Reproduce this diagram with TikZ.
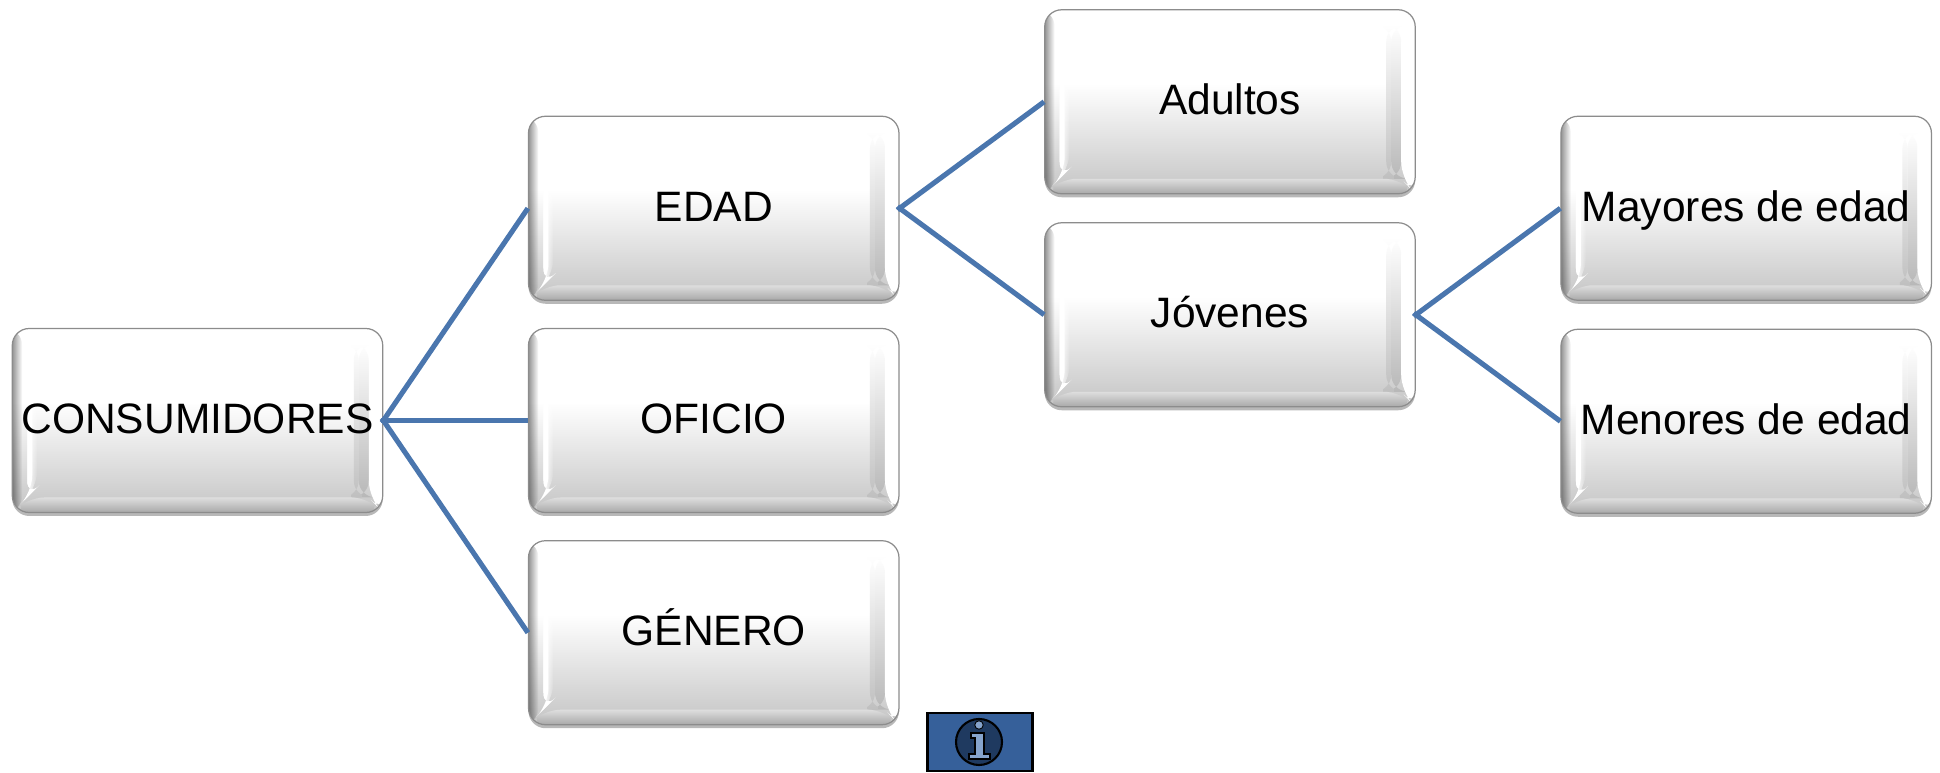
\documentclass[tikz,border=0pt]{standalone}
\usepackage{fontspec}
\setmainfont{Liberation Sans}
\usetikzlibrary{positioning,shadows,fadings}
\definecolor{linkblue}{HTML}{4A76AE}
\definecolor{infoblue}{HTML}{36609A}
\definecolor{infodark}{HTML}{1F3A60}
\definecolor{infolight}{HTML}{86A4CC}
\pgfdeclareverticalshading{boxface}{100bp}{color(0bp)=(black!23);color(25bp)=(black!23);color(55bp)=(white);color(100bp)=(white)}
\tikzfading[name=fadeeast,left color=transparent!0,right color=transparent!100]
\tikzset{boxnode/.style={rectangle,rounded corners=0.34cm,minimum width=7.41cm,minimum height=3.68cm,inner sep=0pt,
text height=0.6cm,text depth=0.08cm,
draw=black!45,line width=0.7pt,shading=boxface,font=\fontsize{24.2}{28}\selectfont,
drop shadow={shadow xshift=0cm,shadow yshift=-0.07cm,opacity=0.28,fill=black},
path picture={
\coordinate (nw) at (path picture bounding box.north west);
\coordinate (ne) at (path picture bounding box.north east);
\coordinate (sw) at (path picture bounding box.south west);
\coordinate (se) at (path picture bounding box.south east);
\coordinate (inw) at ([xshift=0.3cm,yshift=-0.3cm]nw);
\coordinate (ine) at ([xshift=-0.28cm,yshift=-0.3cm]ne);
\coordinate (isw) at ([xshift=0.3cm,yshift=0.3cm]sw);
\coordinate (ise) at ([xshift=-0.28cm,yshift=0.3cm]se);
\shade[top color=white,bottom color=black!28] ([xshift=-0.2cm]ine)--(ine)--(ise)--([xshift=-0.2cm,yshift=0cm]ise)--cycle;
\shade[top color=white,bottom color=black!25] ([xshift=-0.3cm]ine)--([xshift=-0.2cm]ine)--([xshift=-0.2cm]ise)--([xshift=-0.3cm]ise)--cycle;
\fill[white,path fading=fadeeast] (isw)--([xshift=0.2cm,yshift=0.2cm]isw)--([xshift=0.2cm]inw)--(inw)--cycle;
\fill[white] (isw)--([xshift=0.1cm,yshift=0.1cm]isw)--([xshift=0.1cm]inw)--(inw)--cycle;
\shade[top color=black!13,bottom color=black!34] (sw)--(isw)--(ise)--(se)--cycle;
\fill[white] (ne)--(ine)--(ise)--(se)--cycle;
\fill[black,opacity=0.42,path fading=fadeeast] (nw) rectangle ([xshift=0.2cm]sw);
}},
linknode/.style={draw=linkblue,line width=2.9pt,shorten <=-1.5pt}}
\begin{document}
\begin{tikzpicture}
\useasboundingbox (0,0) rectangle (38.8,15.44);
\node[boxnode] (C0) at (3.95,7.03) {CONSUMIDORES};
\node[boxnode,right=2.89cm of C0] (B2) {OFICIO};
\node[boxnode,above=0.54cm of B2] (B1) {EDAD};
\node[boxnode,below=0.54cm of B2] (B3) {GÉNERO};
\node[boxnode,right=2.89cm of B1,yshift=2.13cm] (A1) {Adultos};
\node[boxnode,right=2.89cm of B1,yshift=-2.13cm] (A2) {Jóvenes};
\node[boxnode,right=2.89cm of A2,yshift=2.13cm] (M1) {Mayores de edad};
\node[boxnode,right=2.89cm of A2,yshift=-2.13cm] (M2) {Menores de edad};
\draw[linknode] (C0.east)--(B1.west);
\draw[linknode] (C0.east)--(B2.west);
\draw[linknode] (C0.east)--(B3.west);
\draw[linknode] (B1.east)--(A1.west);
\draw[linknode] (B1.east)--(A2.west);
\draw[linknode] (A2.east)--(M1.west);
\draw[linknode] (A2.east)--(M2.west);
\node[rectangle,draw=black,line width=1.2pt,fill=infoblue,minimum width=2.1cm,minimum height=1.16cm,inner sep=0pt] (info) at (19.6,0.6) {};
\node[circle,draw=black,line width=1.2pt,fill=infodark,minimum size=0.92cm,inner sep=0pt] (ring) at (19.58,0.6) {};
\node[circle,draw=black,line width=0.5pt,fill=infolight,minimum size=0.17cm,inner sep=0pt] (dot) at (19.58,0.94) {};
\fill[infolight,draw=black,line width=0.8pt] (19.42,0.78)--(19.68,0.78)--(19.68,0.36)--(19.8,0.36)--(19.8,0.26)--(19.38,0.26)--(19.38,0.36)--(19.5,0.36)--(19.5,0.68)--(19.42,0.68)--cycle;
\end{tikzpicture}
\end{document}
